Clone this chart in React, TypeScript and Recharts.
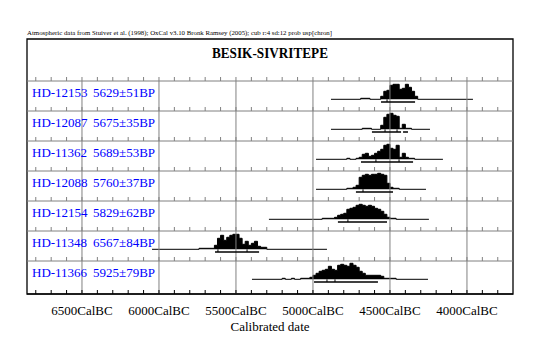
import {
  ComposedChart,
  Area,
  XAxis,
  YAxis,
  ReferenceLine,
  ReferenceArea,
  Scatter,
  Label,
} from 'recharts'

const labIds = ['HD-12153', 'HD-12087', 'HD-11362', 'HD-12088', 'HD-12154', 'HD-11348', 'HD-11366']
const bpDates = ['5629±51BP', '5675±35BP', '5689±53BP', '5760±37BP', '5829±62BP', '6567±84BP', '5925±79BP']

// [year cal BC, relative probability] — first and last point are the ends of the plotted range
const probHD12153 = [[4883, 0], [4690, 1], [4630, 0], [4560, 3], [4540, 8], [4520, 9], [4500, 14], [4480, 15], [4460, 15], [4440, 10], [4420, 11], [4400, 15], [4380, 12], [4360, 8], [4340, 3], [4320, 0], [3961, 0]]
const probHD12087 = [[4883, 0], [4680, 1], [4620, 0], [4560, 4], [4540, 12], [4520, 15], [4500, 16], [4480, 14], [4460, 13], [4440, 1], [4420, 5], [4400, 1], [4360, 0], [4240, 0]]
const probHD11362 = [[4980, 0], [4780, 1], [4760, 0], [4720, 1], [4700, 2], [4680, 5], [4660, 6], [4640, 3], [4620, 4], [4600, 6], [4580, 8], [4560, 10], [4540, 14], [4520, 15], [4500, 11], [4480, 10], [4460, 14], [4440, 2], [4420, 6], [4400, 2], [4380, 1], [4340, 0], [4156, 0]]
const probHD12088 = [[4980, 0], [4780, 1], [4740, 2], [4720, 4], [4700, 12], [4680, 14], [4660, 15], [4640, 14], [4620, 15], [4600, 15], [4580, 16], [4560, 15], [4540, 14], [4520, 6], [4500, 2], [4480, 1], [4440, 0], [4266, 0]]
const probHD12154 = [[5286, 0], [4940, 1], [4860, 2], [4840, 4], [4820, 5], [4800, 6], [4780, 10], [4760, 11], [4740, 12], [4720, 14], [4700, 15], [4680, 14], [4660, 13], [4640, 14], [4620, 13], [4600, 11], [4580, 10], [4560, 8], [4540, 5], [4520, 2], [4500, 1], [4460, 0], [4247, 0]]
const probHD11348 = [[6045, 0], [5740, 1], [5640, 4], [5620, 11], [5600, 14], [5580, 9], [5560, 12], [5540, 14], [5520, 15], [5500, 15], [5480, 11], [5460, 5], [5440, 8], [5420, 4], [5400, 6], [5380, 8], [5360, 3], [5340, 2], [5300, 0], [4909, 0]]
const probHD11366 = [[5396, 0], [5200, 1], [5180, 0], [5140, 1], [5120, 0], [5080, 1], [5020, 2], [5000, 4], [4980, 6], [4960, 8], [4940, 9], [4920, 10], [4900, 13], [4880, 10], [4860, 9], [4840, 14], [4820, 15], [4800, 14], [4780, 13], [4760, 16], [4740, 14], [4720, 12], [4700, 8], [4680, 6], [4660, 4], [4560, 3], [4540, 1], [4460, 0], [4253, 0]]

const probabilities = [probHD12153, probHD12087, probHD11362, probHD12088, probHD12154, probHD11348, probHD11366]

// calibrated ranges drawn under each distribution [from BC, to BC]
const calRanges = [
  [[4558, 4337]],
  [[4617, 4428], [4415, 4383]],
  [[4688, 4350]],
  [[4721, 4480]],
  [[4838, 4519]],
  [[5636, 5350]],
  [[4993, 4578]],
]
// small marks on the range bars
const rangeMarks = [[4519], [4532, 4454], [4591, 4441], [4675], [4773], [5617, 5428], [4909, 4857]]

const axisLabelYears = [6500, 6000, 5500, 5000, 4500, 4000]
const headerNote = 'Atmospheric data from Stuiver et al. (1998); OxCal v3.10 Bronk Ramsey (2005); cub r:4 sd:12 prob usp[chron]'
const plotTitle = 'BESIK-SIVRITEPE'
const axisTitle = 'Calibrated date'

const X_MIN = 3701
const X_MAX = 6857
const Y_TOP = 255
const ROW_H = 30
const rowTop = (i: number) => 213 - ROW_H * i
const baseline = (i: number) => rowTop(i) - 18.3
const barY = (i: number) => baseline(i) - 2.7

const FONT = 'Liberation Serif, Times New Roman, serif'
const GRAY = '#808080'

const minorYears = Array.from({ length: 31 }, (_, i) => 3800 + i * 100)

// one row per year that any distribution uses
const years = Array.from(new Set(probabilities.flatMap((p) => p.map((d) => d[0])))).sort((a, b) => b - a)
const table = years.map((year) => {
  const row: any = { year }
  probabilities.forEach((p, i) => {
    const pt = p.find((d) => d[0] === year)
    if (pt) row[`r${i}`] = baseline(i) + pt[1]
  })
  return row
})

const rowTicks = probabilities.flatMap((_, i) => minorYears.map((year) => ({ year, y: rowTop(i) })))

function AxisTick({ x, y, payload }: any) {
  const v = payload.value
  return (
    <g>
      <line x1={x} x2={x} y1={y} y2={y - 4} stroke="#000" />
      {axisLabelYears.includes(v) && (
        <text x={x} y={y + 21} textAnchor="middle" style={{ fontFamily: FONT }} fontSize={13} fill="#000">
          {v}CalBC
        </text>
      )}
    </g>
  )
}

const rowLabel = (i: number) => (props: any) => {
  const { x, y } = props.viewBox ?? {}
  return (
    <g style={{ fontFamily: FONT }} fontSize={13} fill="#0000ff">
      <text x={x + 5} y={y + 16}>{labIds[i]}</text>
      <text x={x + 66} y={y + 16}>{bpDates[i]}</text>
    </g>
  )
}

const frameText = (props: any) => {
  const { x, y, width } = props.viewBox ?? {}
  return (
    <g style={{ fontFamily: FONT }} fill="#000">
      <text x={x} y={y - 4} fontSize={7} textLength={305} lengthAdjust="spacingAndGlyphs">
        {headerNote}
      </text>
      <text
        x={x + width / 2 - 58}
        y={y + 19}
        fontSize={15}
        fontWeight="bold"
        textLength={116}
        lengthAdjust="spacingAndGlyphs"
      >
        {plotTitle}
      </text>
    </g>
  )
}

const tickMark = (props: any) => (
  <line x1={props.cx} x2={props.cx} y1={props.cy} y2={props.cy - 4} stroke={GRAY} />
)

export default function App() {
  return (
    <ComposedChart
      width={546}
      height={352}
      data={table}
      margin={{ top: 31, right: 41, bottom: 26, left: 19 }}
    >
      <XAxis
        dataKey="year"
        type="number"
        domain={[X_MIN, X_MAX]}
        allowDataOverflow
        reversed
        ticks={minorYears}
        interval={0}
        tickSize={0}
        tickMargin={0}
        tickLine={false}
        tick={<AxisTick />}
        axisLine={{ stroke: '#000' }}
        height={40}
      >
        <Label
          value={axisTitle}
          position="insideBottom"
          offset={3}
          fill="#000"
          style={{ fontFamily: FONT }}
          fontSize={13}
        />
      </XAxis>
      <YAxis hide type="number" domain={[0, Y_TOP]} allowDataOverflow />

      {axisLabelYears.map((yr) => (
        <ReferenceLine
          key={yr}
          segment={[{ x: yr, y: 0 }, { x: yr, y: rowTop(0) }]}
          stroke={GRAY}
        />
      ))}
      {labIds.map((_, i) => (
        <ReferenceLine key={i} y={rowTop(i)} stroke={GRAY} label={rowLabel(i)} />
      ))}
      <Scatter data={rowTicks} dataKey="y" shape={tickMark} isAnimationActive={false} />

      {probabilities.map((_, i) => (
        <Area
          key={i}
          dataKey={`r${i}`}
          type="stepAfter"
          baseValue={baseline(i)}
          connectNulls
          stroke="#000"
          strokeWidth={1}
          fill="#000"
          fillOpacity={1}
          dot={false}
          activeDot={false}
          isAnimationActive={false}
        />
      ))}

      {calRanges.flatMap((ranges, i) =>
        ranges.map(([a, b], j) => (
          <ReferenceLine
            key={`bar-${i}-${j}`}
            segment={[{ x: a, y: barY(i) }, { x: b, y: barY(i) }]}
            stroke="#000"
            strokeWidth={1.5}
          />
        ))
      )}
      {rangeMarks.flatMap((marks, i) =>
        marks.map((yr, j) => (
          <ReferenceLine
            key={`mark-${i}-${j}`}
            segment={[{ x: yr, y: barY(i) }, { x: yr, y: baseline(i) }]}
            stroke="#000"
          />
        ))
      )}

      <ReferenceArea
        x1={X_MIN}
        x2={X_MAX}
        y1={0}
        y2={Y_TOP}
        fill="none"
        stroke="#000"
        strokeWidth={1.3}
        label={frameText}
      />
    </ComposedChart>
  )
}
